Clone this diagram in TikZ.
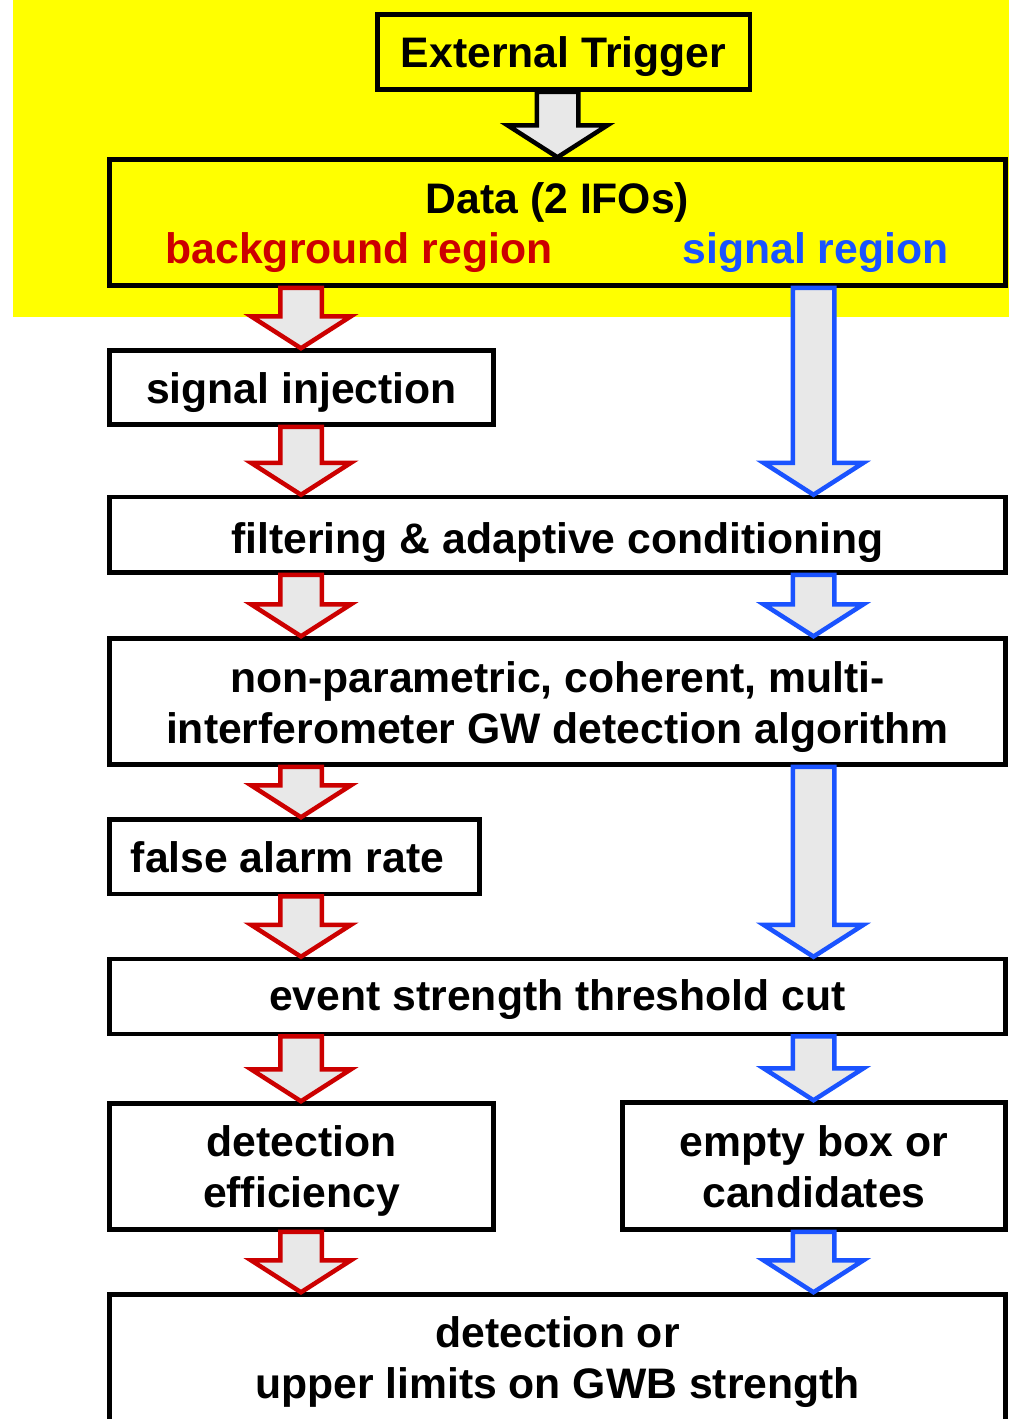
\documentclass[tikz,border=0pt]{standalone}
\usepackage{fontspec}
\setmainfont{Liberation Sans}
\usetikzlibrary{calc}

\definecolor{bandyellow}{RGB}{255,255,0}
\definecolor{bgred}{RGB}{204,0,0}
\definecolor{sigblue}{RGB}{26,83,255}
\definecolor{arrowfill}{RGB}{232,232,232}

% hollow block arrow from the bottom of one box to the top of the next,
% centred on the vertical line through a column coordinate
\newcommand\fatarrow[4]{%
  \draw[#1] let \p1=(#2 |- #3.south), \p2=(#2 |- #4.north) in
    (\x1-20.75pt,\y1) -- (\x1-20.75pt,\y2+32pt) -- (\x1-50pt,\y2+32pt) -- (\x1,\y2)
    -- (\x1+50pt,\y2+32pt) -- (\x1+20.75pt,\y2+32pt) -- (\x1+20.75pt,\y1) -- cycle;}

\begin{document}
\begin{tikzpicture}[x=1pt,y=-1pt,
  txt/.style={font=\fontsize{42.7}{51}\selectfont\bfseries},
  box/.style={txt, draw=black, line width=4.5pt, rectangle, inner sep=0pt, align=center},
  widebox/.style={box, minimum width=896pt},
  arrowbase/.style={fill=arrowfill, line width=4.5pt, line join=miter, miter limit=10},
  blackarrow/.style={arrowbase, draw=black},
  redarrow/.style={arrowbase, draw=bgred},
  bluearrow/.style={arrowbase, draw=sigblue}]

% page and the yellow band behind the trigger and data boxes
\fill[white] (0,0) rectangle (1009,1419);
\useasboundingbox (0,0) rectangle (1009,1419);
\fill[bandyellow] (13,0) rectangle (1009,317);

% columns for the arrows
\coordinate (colL) at (301,0);
\coordinate (colM) at (557.5,0);
\coordinate (colR) at (813.5,0);

% boxes (text height/depth are measured from the baseline of the last line)
\node[box, minimum width=372.5pt, minimum height=75pt, text height=39pt, text depth=9pt]
  (trig) at (563.5,52) {External Trigger};
\node[widebox, minimum height=126pt, text height=21pt, text depth=40pt]
  (data) at (557.5,222.5) {Data (2 IFOs)};
\node[txt, text=bgred, anchor=base, inner sep=0pt] (bg) at (359,263) {background region};
\node[txt, text=sigblue, anchor=base, inner sep=0pt] (sig) at (815.5,263) {signal region};

\node[box, minimum width=384pt, minimum height=74pt, text height=40pt, text depth=9pt]
  (inj) at (301.5,387.5) {signal injection};
\node[widebox, minimum height=75.5pt, text height=45.5pt, text depth=9pt]
  (filt) at (557.5,534.75) {filtering \& adaptive conditioning};
\node[widebox, minimum height=126pt, text height=92pt, text depth=9pt]
  (algo) at (557.5,701.5) {non-parametric, coherent, multi-\\interferometer GW detection algorithm};
\node[box, minimum width=370pt, minimum height=74.5pt, text height=39.5pt, text depth=9pt]
  (far) at (294.5,856.75) {false alarm rate\hspace{14pt}};
\node[widebox, minimum height=75pt, text height=36pt, text depth=9pt]
  (cut) at (557.5,996.5) {event strength threshold cut};
\node[box, minimum width=384pt, minimum height=126pt, text height=90pt, text depth=9pt]
  (eff) at (301.5,1166.5) {detection\\efficiency};
\node[box, minimum width=383pt, minimum height=127pt, text height=91pt, text depth=9pt]
  (cand) at (814,1166) {empty box or\\candidates};
\node[widebox, minimum height=145.5pt, text height=70.5pt, text depth=9pt]
  (result) at (557.5,1367.25) {detection or\\upper limits on GWB strength};

% arrows
\fatarrow{blackarrow}{colM}{trig}{data}
\fatarrow{redarrow}{colL}{data}{inj}
\fatarrow{redarrow}{colL}{inj}{filt}
\fatarrow{bluearrow}{colR}{data}{filt}
\fatarrow{redarrow}{colL}{filt}{algo}
\fatarrow{bluearrow}{colR}{filt}{algo}
\fatarrow{redarrow}{colL}{algo}{far}
\fatarrow{redarrow}{colL}{far}{cut}
\fatarrow{bluearrow}{colR}{algo}{cut}
\fatarrow{redarrow}{colL}{cut}{eff}
\fatarrow{bluearrow}{colR}{cut}{cand}
\fatarrow{redarrow}{colL}{eff}{result}
\fatarrow{bluearrow}{colR}{cand}{result}
\end{tikzpicture}
\end{document}
